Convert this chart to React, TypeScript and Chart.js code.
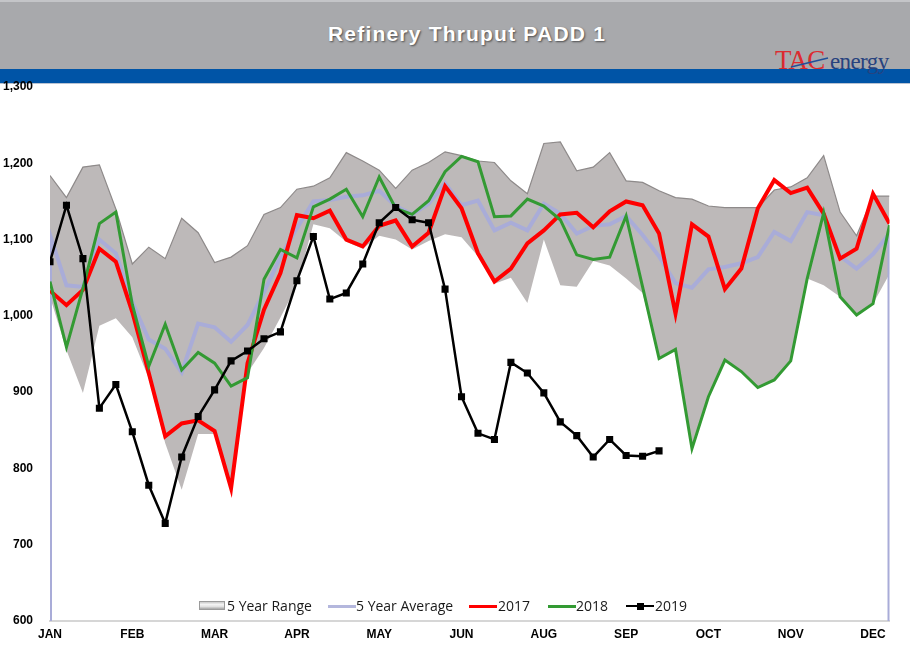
import React, { useEffect, useRef } from 'react';
import { Chart, registerables } from 'chart.js';

Chart.register(...registerables);

// ---- data (weekly, 52 weeks) ----
const monthLabels = ['JAN', 'FEB', 'MAR', 'APR', 'MAY', 'JUN', 'AUG', 'SEP', 'OCT', 'NOV', 'DEC'];
const monthTickWeeks = [0, 5, 10, 15, 20, 25, 30, 35, 40, 45, 50];
const yTicks = [600, 700, 800, 900, 1000, 1100, 1200, 1300];

const rangeHigh = [
  1184, 1155, 1195, 1198, 1140, 1068, 1090, 1075, 1128, 1109,
  1070, 1077, 1092, 1133, 1142, 1166, 1170, 1181, 1214, 1203,
  1191, 1167, 1191, 1201, 1215, 1210, 1203, 1201, 1177, 1160,
  1226, 1228, 1190, 1195, 1214, 1177, 1175, 1164, 1155, 1153,
  1144, 1142, 1142, 1142, 1165, 1169, 1181, 1210, 1136, 1105,
  1157, 1157,
];
const rangeLow = [
  1025, 955, 899, 987, 997, 972, 918, 833, 772, 845,
  845, 780, 925, 958, 998, 1040, 1120, 1115, 1097, 1088,
  1105, 1100, 1087, 1098, 1107, 1103, 1078, 1042, 1050, 1017,
  1100, 1040, 1038, 1072, 1066, 1049, 1030, 944, 956, 826,
  894, 942, 927, 906, 916, 941, 1049, 1040, 1025, 1001,
  1016, 1055,
];
const avg5 = [
  1106, 1040, 1038, 1100, 1082, 1018, 969, 957, 926, 990,
  985, 966, 988, 1031, 1077, 1115, 1150, 1152, 1156, 1158,
  1164, 1144, 1133, 1147, 1174, 1145, 1151, 1112, 1122, 1112,
  1147, 1134, 1108, 1118, 1120, 1131, 1106, 1078, 1043, 1037,
  1061, 1064, 1069, 1077, 1110, 1098, 1136, 1132, 1078, 1062,
  1081, 1108,
];
const avgEdgeDrop = 0; // the average series drops to zero at both ends in the source
const y2017 = [
  1033, 1014, 1034, 1088, 1071, 1005, 925, 842, 859, 863,
  849, 774, 938, 1008, 1056, 1132, 1128, 1138, 1100, 1091,
  1118, 1125, 1091, 1109, 1170, 1141, 1082, 1045, 1062, 1095,
  1112, 1133, 1135, 1116, 1137, 1150, 1145, 1108, 1003, 1120,
  1104, 1035, 1062, 1141, 1178, 1161, 1168, 1134, 1075, 1088,
  1160, 1121,
];
const y2018 = [
  1045, 959, 1036, 1121, 1136, 1015, 934, 989, 929, 952,
  938, 908, 919, 1048, 1087, 1076, 1143, 1153, 1166, 1130,
  1182, 1141, 1133, 1151, 1189, 1209, 1202, 1130, 1131, 1153,
  1144, 1126, 1080, 1074, 1077, 1131, 1038, 944, 956, 826,
  894, 942, 927, 906, 916, 941, 1049, 1135, 1025, 1001,
  1016, 1119,
];
const y2019 = [
  1071, 1145, 1075, 879, 910, 848, 778, 728, 815, 868,
  903, 941, 954, 970, 979, 1046, 1104, 1022, 1030, 1068,
  1122, 1142, 1126, 1122, 1035, 894, 846, 838, 939, 925,
  899, 861, 843, 815, 838, 817, 816, 823,
];

const toPts = (arr: number[]) => arr.map((y, x) => ({ x, y }));
const lastWeek = rangeHigh.length - 1;

export default function App() {
  const canvasRef = useRef<HTMLCanvasElement | null>(null);

  useEffect(() => {
    const canvas = canvasRef.current;
    if (!canvas) return;
    const avgPts = [{ x: 0, y: avgEdgeDrop }, ...toPts(avg5), { x: lastWeek, y: avgEdgeDrop }];
    const chart = new Chart(canvas, {
      type: 'line',
      data: {
        datasets: [
          {
            label: '5 Year Range',
            data: toPts(rangeHigh),
            borderColor: '#8e8a8a',
            borderWidth: 1.2,
            backgroundColor: '#bdb9b9',
            fill: '+1',
            pointRadius: 0,
            tension: 0,
            order: 6,
          },
          {
            label: 'range low',
            data: toPts(rangeLow),
            borderColor: 'rgba(0,0,0,0)',
            borderWidth: 0,
            pointRadius: 0,
            fill: false,
            order: 7,
          },
          {
            label: '5 Year Average',
            data: avgPts,
            borderColor: '#a9acd8',
            borderWidth: 4,
            pointRadius: 0,
            fill: false,
            order: 4,
          },
          {
            label: '2017',
            data: toPts(y2017),
            borderColor: '#ff0000',
            borderWidth: 4,
            pointRadius: 0,
            fill: false,
            order: 3,
          },
          {
            label: '2018',
            data: toPts(y2018),
            borderColor: '#339a33',
            borderWidth: 3,
            pointRadius: 0,
            fill: false,
            order: 2,
          },
          {
            label: '2019',
            data: toPts(y2019),
            borderColor: '#000000',
            borderWidth: 2.5,
            pointStyle: 'rect',
            pointRadius: 5,
            pointBackgroundColor: '#000000',
            pointBorderColor: '#000000',
            pointBorderWidth: 0,
            fill: false,
            order: 1,
          },
        ],
      },
      options: {
        responsive: false,
        animation: false,
        devicePixelRatio: 1,
        layout: { padding: { top: 87, right: 20.5, bottom: 0, left: 0 } },
        plugins: {
          legend: { display: false },
          tooltip: { enabled: false },
          title: { display: false },
        },
        scales: {
          x: {
            type: 'linear',
            min: 0,
            max: lastWeek,
            grid: { display: false, drawTicks: false },
            border: { display: true, color: '#d6d6d6', width: 2 },
            afterBuildTicks: (scale: any) => {
              scale.ticks = monthTickWeeks.map((v) => ({ value: v }));
            },
            afterFit: (scale: any) => {
              scale.height = 38;
            },
            ticks: {
              autoSkip: false,
              maxRotation: 0,
              padding: 6,
              color: '#000',
              font: { family: 'Liberation Sans, Arial, sans-serif', size: 12, weight: 'bold' },
              callback: (v: any) => {
                const i = monthTickWeeks.indexOf(Number(v));
                return i >= 0 ? monthLabels[i] : '';
              },
            },
          },
          y: {
            min: 600,
            max: 1300,
            grid: { display: false, drawTicks: false },
            border: { display: false },
            afterBuildTicks: (scale: any) => {
              scale.ticks = yTicks.map((v) => ({ value: v }));
            },
            afterFit: (scale: any) => {
              scale.width = 50;
            },
            ticks: {
              padding: 17,
              color: '#000',
              font: { family: 'Liberation Sans, Arial, sans-serif', size: 12, weight: 'bold' },
              callback: (v: any) => Number(v).toLocaleString('en-US'),
            },
          },
        },
      },
    });
    return () => chart.destroy();
  }, []);

  const legendText: React.CSSProperties = {
    position: 'absolute',
    top: 596,
    fontFamily: '"Open Sans", sans-serif',
    fontSize: 14,
    lineHeight: '20px',
    color: '#1a1a1a',
    whiteSpace: 'nowrap',
  };
  const legendLine = (left: number, color: string, h: number): React.CSSProperties => ({
    position: 'absolute',
    left,
    top: 606 - h / 2,
    width: 28,
    height: h,
    background: color,
  });

  return (
    <div
      style={{
        position: 'fixed',
        left: 0,
        top: 0,
        width: 910,
        height: 659,
        background: '#ffffff',
        overflow: 'hidden',
      }}
    >
      {/* header */}
      <div style={{ position: 'absolute', left: 0, top: 0, width: 910, height: 69, background: '#a8a9ac' }} />
      <div style={{ position: 'absolute', left: 0, top: 0, width: 910, height: 2, background: '#c4c5c8' }} />
      <div style={{ position: 'absolute', left: 0, top: 69, width: 910, height: 14, background: '#0054a6' }} />
      <div style={{ position: 'absolute', left: 0, top: 83, width: 910, height: 1, background: '#b9c3d2' }} />
      <div
        style={{
          position: 'absolute',
          left: 0,
          top: 21,
          width: 934,
          textAlign: 'center',
          fontFamily: '"Liberation Sans", Arial, sans-serif',
          fontWeight: 'bold',
          fontSize: 21,
          letterSpacing: 1.2,
          color: '#ffffff',
          textShadow: '1px 1px 2px rgba(0,0,0,0.55)',
          lineHeight: '26px',
        }}
      >
        Refinery Thruput PADD 1
      </div>
      <svg style={{ position: 'absolute', left: 770, top: 44 }} width={135} height={36}>
        <text
          x={5}
          y={24.5}
          fontFamily='"Liberation Serif", "DejaVu Serif", serif'
          fontSize={27}
          fill="#dc2b30"
          letterSpacing={-0.8}
        >
          TAC
        </text>
        <line x1={21} y1={23} x2={58} y2={14} stroke="#1f4f9a" strokeWidth={1.6} />
        <text
          x={60}
          y={24.5}
          fontFamily='"Liberation Serif", "DejaVu Serif", serif'
          fontSize={23}
          fill="#27427e"
          letterSpacing={-0.6}
        >
          energy
        </text>
      </svg>

      <canvas
        ref={canvasRef}
        width={910}
        height={659}
        style={{ position: 'absolute', left: 0, top: 0, width: 910, height: 659 }}
      />

      {/* legend */}
      <div
        style={{
          position: 'absolute',
          left: 199,
          top: 601,
          width: 26,
          height: 9,
          boxSizing: 'border-box',
          border: '1px solid #9b9b9b',
          background: 'linear-gradient(to bottom, #c9c9c9 0%, #f4f4f4 35%, #e2e2e2 65%, #a5a5a5 100%)',
        }}
      />
      <span style={{ ...legendText, left: 227 }}>5 Year Range</span>
      <div style={legendLine(328, '#b4b7dd', 3)} />
      <span style={{ ...legendText, left: 356 }}>5 Year Average</span>
      <div style={legendLine(469, '#ff0000', 3)} />
      <span style={{ ...legendText, left: 498 }}>2017</span>
      <div style={legendLine(548, '#339a33', 3)} />
      <span style={{ ...legendText, left: 576 }}>2018</span>
      <div style={legendLine(626, '#000000', 2.5)} />
      <div style={{ position: 'absolute', left: 636.5, top: 602.5, width: 7, height: 7, background: '#000' }} />
      <span style={{ ...legendText, left: 655 }}>2019</span>
    </div>
  );
}
